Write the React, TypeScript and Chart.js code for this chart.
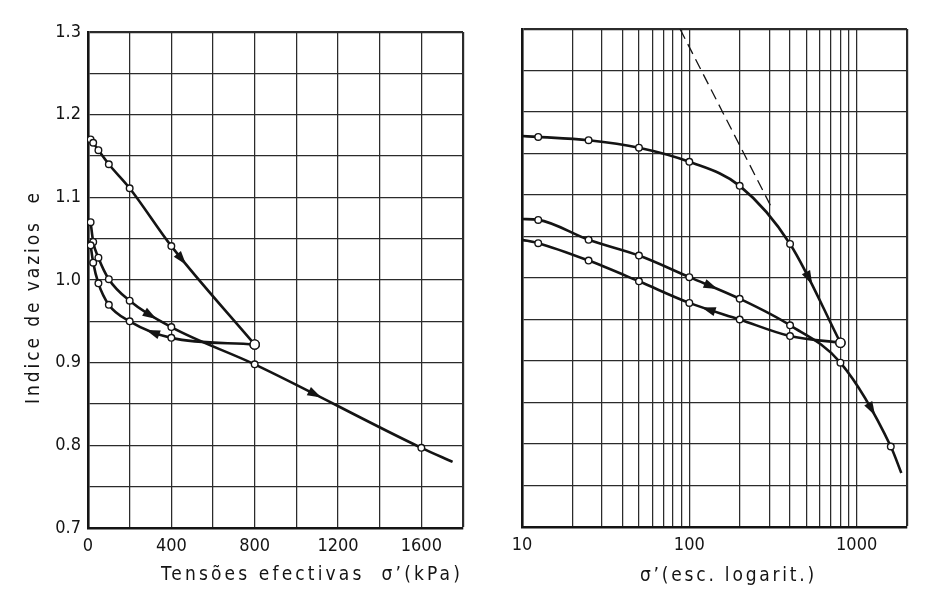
import React, { useEffect, useRef } from 'react';
import { Chart, registerables } from 'chart.js';

Chart.register(...registerables);

// ---- measured test points (oedometer test) ----
const stressLoading = [12.5, 25, 50, 100, 200, 400, 800];
const eLoading = [1.17, 1.166, 1.157, 1.14, 1.111, 1.041, 0.922];
const stressUnloading = [800, 400, 200, 100, 50, 25, 12.5];
const eUnloading = [0.922, 0.93, 0.95, 0.97, 0.996, 1.021, 1.042];
const stressReloading = [12.5, 25, 50, 100, 200, 400, 800, 1600];
const eReloading = [1.07, 1.046, 1.027, 1.001, 0.975, 0.943, 0.898, 0.797];

// curve extensions (drawn without markers)
const linTailStress = [1750];
const linTailE = [0.78];
const logStartStress = [10];
const logStartELoading = [1.171];
const logStartEUnloading = [1.046];
const logStartEReloading = [1.071];
const logTailStress = [1850];
const logTailE = [0.765];

// dashed virgin-compression guide (log panel)
const dashedStress = [88, 310];
const dashedE = [1.3, 1.085];

// axes
const linXMin = 0;
const linXMax = 1800;
const linXStep = 200;
const linXLabels = [0, 400, 800, 1200, 1600];
const yMin = 0.7;
const yMax = 1.3;
const yStep = 0.05;
const logXTicks = [10, 20, 30, 40, 50, 60, 70, 80, 90, 100, 200, 300, 400, 500, 600, 700, 800, 900, 1000, 2000];
const logXLabels = [10, 100, 1000];

// arrow annotations: stress where arrow sits on a curve, direction (+1 = increasing stress)
const linArrowSeries = ['loading', 'reloading', 'unloading', 'reloading'];
const linArrowStress = [450, 300, 310, 1090];
const linArrowDir = [1, 1, -1, 1];
const logArrowSeries = ['loading', 'reloading', 'unloading', 'reloading'];
const logArrowStress = [520, 135, 130, 1230];
const logArrowDir = [1, 1, -1, 1];

const FONT = "'DejaVu Sans Condensed', 'DejaVu Sans', sans-serif";
const INK = '#141414';
const GRID = '#2b2b2b';

type P = { x: number; y: number; m?: boolean; big?: boolean };

function pts(stress: number[], e: number[], marked: boolean): P[] {
  return stress.map((s, i) => ({ x: s, y: e[i], m: marked, big: marked && s === 800 && Math.abs(e[i] - eLoading[6]) < 1e-9 }));
}
function sorted(a: P[]): P[] {
  return [...a].sort((p, q) => p.x - q.x);
}

function curve(label: string, data: P[]) {
  return {
    label,
    data,
    borderColor: INK,
    borderWidth: 2.6,
    cubicInterpolationMode: 'monotone' as const,
    pointRadius: (c: any) => (c.raw && c.raw.m ? (c.raw.big ? 4.6 : 3.3) : 0),
    pointBackgroundColor: '#ffffff',
    pointBorderColor: INK,
    pointBorderWidth: 1.4,
    fill: false,
  };
}

function bezierAt(p0: any, p1: any, t: number) {
  const a = [p0.x, p0.y], b = [p0.cp2x ?? p0.x, p0.cp2y ?? p0.y], c = [p1.cp1x ?? p1.x, p1.cp1y ?? p1.y], d = [p1.x, p1.y];
  const u = 1 - t;
  const pos = [0, 1].map((k) => u * u * u * a[k] + 3 * u * u * t * b[k] + 3 * u * t * t * c[k] + t * t * t * d[k]);
  const der = [0, 1].map((k) => 3 * u * u * (b[k] - a[k]) + 6 * u * t * (c[k] - b[k]) + 3 * t * t * (d[k] - c[k]));
  return { pos, der };
}

const arrowPlugin = {
  id: 'curveArrows',
  afterDatasetsDraw(chart: any, _args: any, opts: any) {
    const { ctx } = chart;
    const xs = chart.scales.x;
    const series: string[] = opts.series || [];
    series.forEach((name, k) => {
      const di = chart.data.datasets.findIndex((d: any) => d.label === name);
      if (di < 0) return;
      const meta = chart.getDatasetMeta(di);
      const data: P[] = chart.data.datasets[di].data;
      const s = opts.stress[k];
      const dir = opts.dir[k];
      for (let i = 0; i < data.length - 1; i++) {
        if (s >= data[i].x && s <= data[i + 1].x) {
          const e0 = meta.data[i], e1 = meta.data[i + 1];
          const px = xs.getPixelForValue(s);
          let lo = 0, hi = 1;
          for (let it = 0; it < 40; it++) {
            const mid = (lo + hi) / 2;
            if (bezierAt(e0, e1, mid).pos[0] < px) lo = mid; else hi = mid;
          }
          const { pos, der } = bezierAt(e0, e1, (lo + hi) / 2);
          let dx = der[0] * dir, dy = der[1] * dir;
          const len = Math.hypot(dx, dy) || 1;
          dx /= len; dy /= len;
          const L = 14, W = 4.6;
          const tip = [pos[0] + dx * L * 0.5, pos[1] + dy * L * 0.5];
          const base = [pos[0] - dx * L * 0.5, pos[1] - dy * L * 0.5];
          ctx.save();
          ctx.fillStyle = INK;
          ctx.beginPath();
          ctx.moveTo(tip[0], tip[1]);
          ctx.lineTo(base[0] - dy * W, base[1] + dx * W);
          ctx.lineTo(base[0] + dy * W, base[1] - dx * W);
          ctx.closePath();
          ctx.fill();
          ctx.restore();
          break;
        }
      }
    });
  },
};

const titlePlugin = {
  id: 'panelTitles',
  afterDraw(chart: any, _args: any, opts: any) {
    const { ctx, chartArea } = chart;
    for (const t of opts.items || []) {
      ctx.save();
      ctx.font = `${t.size}px ${FONT}`;
      ctx.fillStyle = INK;
      ctx.textBaseline = 'middle';
      ctx.textAlign = 'left';
      (ctx as any).letterSpacing = '0px';
      const natural = ctx.measureText(t.text).width;
      const n = Array.from(t.text as string).length;
      const sp = Math.max(0, (t.width - natural) / n);
      (ctx as any).letterSpacing = sp + 'px';
      const c = t.center(chartArea);
      ctx.translate(c[0], c[1]);
      if (t.rotate) ctx.rotate(t.rotate);
      ctx.fillText(t.text, -t.width / 2, 0);
      ctx.restore();
    }
  },
};

const gridWidth = (c: any) => (c.scale && c.index === c.scale.ticks.length - 1 ? 2.2 : 1.25);

function yScale(showLabels: boolean, width: number) {
  return {
    type: 'linear' as const,
    min: yMin,
    max: yMax,
    ticks: {
      stepSize: yStep,
      display: showLabels,
      padding: 7,
      color: INK,
      font: { family: FONT, size: 18 },
      callback: (v: any) => {
        const n = Number(v);
        return Math.abs(n * 10 - Math.round(n * 10)) < 1e-6 ? n.toFixed(1) : '';
      },
    },
    grid: { color: GRID, lineWidth: gridWidth, drawTicks: false },
    border: { color: INK, width: 2.6 },
    afterFit: (s: any) => {
      s.width = width;
    },
  };
}

function linearConfig(): any {
  const loading = sorted(pts(stressLoading, eLoading, true));
  const unloading = sorted(pts(stressUnloading, eUnloading, true));
  const reloading = sorted([...pts(stressReloading, eReloading, true), ...pts(linTailStress, linTailE, false)]);
  return {
    type: 'line',
    data: {
      datasets: [curve('loading', loading), curve('unloading', unloading), curve('reloading', reloading)],
    },
    options: {
      animation: false,
      responsive: false,
      events: [],
      layout: { padding: { left: 0, right: 12, top: 32, bottom: 0 } },
      plugins: {
        legend: { display: false },
        tooltip: { enabled: false },
        curveArrows: { series: linArrowSeries, stress: linArrowStress, dir: linArrowDir },
        panelTitles: {
          items: [
            {
              text: 'Tensões efectivas  σ’(kPa)',
              size: 19,
              width: 302,
              center: (a: any) => [a.right - 151, a.bottom + 47],
            },
            {
              text: 'Indice de vazios  e',
              size: 19,
              width: 214,
              rotate: -Math.PI / 2,
              center: (a: any) => [34, 297],
            },
          ],
        },
      },
      scales: {
        x: {
          type: 'linear',
          min: linXMin,
          max: linXMax,
          ticks: {
            stepSize: linXStep,
            autoSkip: false,
            maxRotation: 0,
            padding: 8,
            color: INK,
            font: { family: FONT, size: 18 },
            callback: (v: any) => (linXLabels.includes(Number(v)) ? String(v) : ''),
          },
          grid: { color: GRID, lineWidth: gridWidth, drawTicks: false },
          border: { color: INK, width: 2.6 },
          afterFit: (s: any) => {
            s.height = 70;
          },
        },
        y: yScale(true, 88),
      },
    },
    plugins: [arrowPlugin, titlePlugin],
  };
}

function logConfig(): any {
  const loading = sorted([...pts(logStartStress, logStartELoading, false), ...pts(stressLoading, eLoading, true)]);
  const unloading = sorted([...pts(logStartStress, logStartEUnloading, false), ...pts(stressUnloading, eUnloading, true)]);
  const reloading = sorted([
    ...pts(logStartStress, logStartEReloading, false),
    ...pts(stressReloading, eReloading, true),
    ...pts(logTailStress, logTailE, false),
  ]);
  const dashed = dashedStress.map((s, i) => ({ x: s, y: dashedE[i] }));
  return {
    type: 'line',
    data: {
      datasets: [
        curve('loading', loading),
        curve('unloading', unloading),
        curve('reloading', reloading),
        {
          label: 'dashed',
          data: dashed,
          borderColor: INK,
          borderWidth: 1.3,
          borderDash: [11, 6],
          pointRadius: 0,
          fill: false,
        },
      ],
    },
    options: {
      animation: false,
      responsive: false,
      events: [],
      layout: { padding: { left: 0, right: 28, top: 29, bottom: 0 } },
      plugins: {
        legend: { display: false },
        tooltip: { enabled: false },
        curveArrows: { series: logArrowSeries, stress: logArrowStress, dir: logArrowDir },
        panelTitles: {
          items: [
            {
              text: 'σ’(esc. logarit.)',
              size: 19,
              width: 177,
              center: (a: any) => [(a.left + a.right) / 2 + 14, a.bottom + 49],
            },
          ],
        },
      },
      scales: {
        x: {
          type: 'logarithmic',
          min: logXTicks[0],
          max: logXTicks[logXTicks.length - 1],
          afterBuildTicks: (s: any) => {
            s.ticks = logXTicks.map((v) => ({ value: v }));
          },
          ticks: {
            autoSkip: false,
            maxRotation: 0,
            padding: 8,
            color: INK,
            font: { family: FONT, size: 18 },
            callback: (v: any) => (logXLabels.includes(Number(v)) ? String(v) : ''),
          },
          grid: { color: GRID, lineWidth: gridWidth, drawTicks: false },
          border: { color: INK, width: 2.6 },
          afterFit: (s: any) => {
            s.height = 71;
          },
        },
        y: yScale(false, 42),
      },
    },
    plugins: [arrowPlugin, titlePlugin],
  };
}

export default function App() {
  const leftRef = useRef<HTMLCanvasElement>(null);
  const rightRef = useRef<HTMLCanvasElement>(null);
  useEffect(() => {
    const c1 = new Chart(leftRef.current as HTMLCanvasElement, linearConfig());
    const c2 = new Chart(rightRef.current as HTMLCanvasElement, logConfig());
    return () => {
      c1.destroy();
      c2.destroy();
    };
  }, []);
  return (
    <div style={{ position: 'absolute', left: 0, top: 0, width: 935, height: 598, background: '#ffffff' }}>
      <canvas ref={leftRef} width={475} height={598} style={{ position: 'absolute', left: 0, top: 0, width: 475, height: 598 }} />
      <canvas ref={rightRef} width={455} height={598} style={{ position: 'absolute', left: 480, top: 0, width: 455, height: 598 }} />
    </div>
  );
}
